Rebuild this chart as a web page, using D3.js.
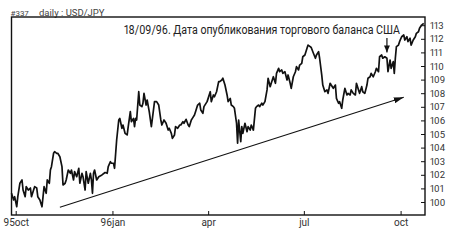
<!DOCTYPE html>
<html>
<head>
<meta charset="utf-8">
<script src="https://cdn.jsdelivr.net/npm/d3@7"></script>
<style>
  body { margin: 0; background: #fff; }
  svg text { font-family: Roboto, "Noto Sans", sans-serif; fill: #2a2a2a; font-variant-numeric: proportional-nums; }
</style>
</head>
<body>
<div id="chart"></div>
<script>
// daily USD/JPY
const dates = [
  "95-09-27","95-09-29","95-09-30","95-10-02","95-10-03","95-10-05","95-10-07","95-10-08","95-10-10","95-10-11",
  "95-10-13","95-10-15","95-10-16","95-10-18","95-10-19","95-10-21","95-10-22","95-10-24","95-10-26","95-10-27",
  "95-10-28","95-10-30","95-10-31","95-11-02","95-11-03","95-11-04","95-11-06","95-11-07","95-11-09","95-11-10",
  "95-11-12","95-11-14","95-11-15","95-11-17","95-11-18","95-11-20","95-11-22","95-11-23","95-11-25","95-11-26",
  "95-11-28","95-11-30","95-12-01","95-12-03","95-12-04","95-12-06","95-12-07","95-12-09","95-12-11","95-12-12",
  "95-12-13","95-12-14","95-12-15","95-12-17","95-12-19","95-12-22",
  "95-12-25","95-12-27","95-12-28","95-12-30","95-12-31","96-01-02","96-01-03","96-01-05","96-01-07","96-01-08",
  "96-01-10","96-01-11","96-01-13","96-01-15","96-01-16","96-01-18","96-01-19","96-01-21","96-01-22","96-01-23",
  "96-01-24","96-01-26","96-01-27","96-01-29","96-01-30","96-01-31","96-02-02","96-02-03","96-02-05","96-02-07",
  "96-02-08","96-02-10","96-02-12","96-02-14","96-02-16","96-02-17","96-02-19","96-02-21","96-02-23","96-02-24",
  "96-02-26","96-02-27","96-02-29","96-03-01","96-03-03","96-03-05","96-03-06","96-03-08","96-03-09","96-03-11",
  "96-03-13","96-03-14","96-03-16","96-03-17","96-03-19","96-03-20","96-03-22","96-03-24","96-03-25","96-03-27",
  "96-03-28","96-03-31","96-04-01","96-04-03","96-04-04","96-04-06","96-04-07","96-04-09","96-04-11","96-04-12",
  "96-04-14","96-04-15","96-04-17","96-04-19","96-04-20","96-04-22","96-04-23","96-04-25","96-04-26","96-04-28",
  "96-04-29","96-04-30","96-05-02","96-05-03","96-05-04","96-05-06","96-05-08","96-05-09","96-05-11","96-05-12",
  "96-05-14","96-05-16","96-05-17","96-05-19","96-05-20","96-05-22","96-05-23","96-05-25","96-05-27","96-05-28",
  "96-05-30","96-05-31","96-06-02","96-06-04","96-06-05","96-06-07","96-06-08","96-06-10","96-06-11","96-06-13",
  "96-06-15","96-06-16","96-06-18","96-06-19","96-06-21","96-06-23","96-06-24","96-06-26","96-06-27","96-06-29",
  "96-06-30","96-07-02","96-07-04","96-07-05","96-07-07","96-07-08","96-07-10","96-07-12","96-07-13","96-07-15",
  "96-07-16","96-07-18","96-07-19","96-07-21","96-07-23","96-07-24","96-07-26","96-07-27","96-07-29","96-07-31",
  "96-08-01","96-08-03","96-08-04","96-08-06","96-08-07","96-08-09","96-08-11","96-08-12","96-08-14","96-08-15",
  "96-08-17","96-08-19","96-08-20","96-08-22","96-08-23","96-08-25","96-08-26","96-08-28","96-08-30","96-08-31",
  "96-09-02","96-09-03","96-09-05","96-09-07","96-09-08","96-09-10","96-09-11","96-09-13","96-09-14","96-09-16",
  "96-09-18","96-09-19","96-09-21","96-09-22","96-09-24","96-09-25","96-09-26","96-09-27","96-09-29","96-09-30",
  "96-10-02","96-10-04","96-10-05","96-10-07","96-10-08","96-10-10","96-10-11","96-10-13","96-10-15","96-10-16",
  "96-10-18","96-10-19","96-10-21","96-10-23"
];

const rates = [
  100.64,100.15,100.39,99.65,100.39,101.38,101.62,100.88,100.39,101.13,
  100.88,101.03,100.39,100.88,101.13,101.03,100.39,100.15,99.65,100.39,
  101.13,100.64,101.62,101.38,102.35,102.60,103.58,103.70,103.58,103.58,
  103.33,102.60,101.25,101.38,101.62,102.35,102.11,102.35,101.62,102.23,
  101.86,102.48,101.38,102.11,101.86,100.88,102.23,101.38,102.11,101.62,
  100.64,102.11,102.35,101.62,101.86,101.99,
  102.17,102.11,102.60,102.96,102.85,102.85,102.48,104.56,106.03,106.15,
  105.42,105.66,105.05,104.93,105.54,106.64,105.90,106.15,105.54,106.15,
  106.03,108.11,107.13,107.01,107.26,107.99,107.13,107.50,106.64,105.54,
  106.15,107.38,107.38,107.13,106.03,105.66,106.03,105.79,105.29,105.42,
  105.05,104.68,104.93,105.54,105.42,105.66,105.66,105.90,105.79,106.08,
  105.66,105.54,106.03,106.15,106.40,106.64,107.13,107.26,106.76,106.52,
  107.01,107.38,107.62,108.11,107.38,107.87,107.74,108.11,108.85,108.85,
  108.97,109.10,108.60,107.87,107.38,107.62,107.13,107.01,106.89,105.79,
  104.32,106.03,104.43,105.54,105.05,105.79,105.17,105.54,105.29,105.66,
  105.29,106.89,107.01,107.13,107.01,107.26,107.13,107.38,108.24,109.10,
  108.48,108.73,109.21,108.73,109.46,109.83,109.58,109.71,109.46,109.58,
  108.97,109.34,108.73,108.36,109.21,109.58,109.95,109.71,110.07,110.20,
  110.68,110.81,111.30,111.54,111.42,111.36,110.96,110.57,110.81,111.05,
  110.57,109.34,108.60,108.11,108.24,107.99,108.73,108.60,108.36,108.60,
  107.62,107.26,107.38,106.89,107.50,108.36,107.87,107.99,107.87,108.24,
  107.99,107.87,108.73,108.24,107.99,108.48,108.11,107.99,108.60,109.10,
  109.21,109.46,109.21,109.58,109.83,109.58,110.68,110.81,110.57,110.68,
  110.57,109.58,110.44,109.83,110.32,109.46,110.57,111.42,111.54,111.79,
  112.15,112.28,111.91,112.15,111.79,112.04,111.54,111.91,112.15,112.40,
  112.52,112.77,113.01,113.14
];

const xTickDates = ["95-10-01", "96-01-01", "96-04-01", "96-07-01", "96-10-01"];
const xTickLabels = ["95oct", "96jan", "apr", "jul", "oct"];
const yTickValues = [100, 101, 102, 103, 104, 105, 106, 107, 108, 109, 110, 111, 112, 113];

// hand-drawn trend arrow and event marker
const trendDates = ["95-11-12", "96-10-04"];
const trendValues = [99.61, 107.70];
const eventDate = "96-09-18";
const eventValues = [112.05, 111.0];
const eventText = "18/09/96. Дата опубликования торгового баланса США";

var config = {
  width: 455,
  height: 244,
  left: 11.5,
  top: 17,
  right: 425,
  bottom: 215,
  lineStroke: 1.7,
  xLabelSize: "10px",
  yLabelSize: "9.5px",
  labelColor: "#333"
};

var parse = d3.utcParse("%y-%m-%d");
var data = dates.map((d, i) => ({ date: parse(d), rate: rates[i] }));

/* Scale */
var xScale = d3.scaleUtc()
  .domain([parse(xTickDates[0]), parse(xTickDates[xTickDates.length - 1])])
  .range([15.7, 400.6]);

var yScale = d3.scaleLinear()
  .domain([100, 113])
  .range([202, 25.2]);

var svg = d3.select("#chart")
  .append("svg")
  .attr("width", config.width)
  .attr("height", config.height);

var defs = svg.append("defs");
defs.append("marker")
  .attr("id", "headBig")
  .attr("viewBox", "0 0 10 6")
  .attr("refX", 10).attr("refY", 3)
  .attr("markerWidth", 10).attr("markerHeight", 6)
  .attr("markerUnits", "userSpaceOnUse")
  .attr("orient", "auto")
  .append("path").attr("d", "M0,0L10,3L0,6Z").attr("fill", "#111");
defs.append("marker")
  .attr("id", "headSmall")
  .attr("viewBox", "0 0 7 6")
  .attr("refX", 7).attr("refY", 3)
  .attr("markerWidth", 7).attr("markerHeight", 6)
  .attr("markerUnits", "userSpaceOnUse")
  .attr("orient", "auto")
  .append("path").attr("d", "M0,0L7,3L0,6Z").attr("fill", "#111");

/* title */
svg.append("text")
  .attr("x", 10.5).attr("y", 15.5)
  .style("font-size", "8px")
  .style("fill", "#444")
  .text("#337");
svg.append("text")
  .attr("x", 39).attr("y", 15.5)
  .style("font-size", "9.5px")
  .style("fill", "#444")
  .text("daily : USD/JPY");

/* Axes */
var xAxis = d3.axisBottom(xScale)
  .tickValues(xTickDates.map(parse))
  .tickFormat((d, i) => xTickLabels[i])
  .tickSize(-4)
  .tickPadding(4);

svg.append("g")
  .attr("class", "x axis")
  .attr("transform", `translate(0, ${config.bottom})`)
  .call(xAxis)
  .call(g => g.select(".domain").remove())
  .call(g => g.selectAll("line").attr("stroke", "#111"))
  .call(g => g.selectAll("text").style("font-size", config.xLabelSize).style("fill", config.labelColor));

var yAxis = d3.axisRight(yScale)
  .tickValues(yTickValues)
  .tickSize(-4)
  .tickPadding(5);

svg.append("g")
  .attr("class", "y axis")
  .attr("transform", `translate(${config.right}, 0)`)
  .call(yAxis)
  .call(g => g.select(".domain").remove())
  .call(g => g.selectAll("line").attr("stroke", "#111"))
  .call(g => g.selectAll("text").style("font-size", config.yLabelSize).style("fill", config.labelColor));

/* frame */
svg.append("rect")
  .attr("x", config.left)
  .attr("y", config.top)
  .attr("width", config.right - config.left)
  .attr("height", config.bottom - config.top)
  .attr("fill", "none")
  .attr("stroke", "#111")
  .attr("stroke-width", 1.4);

/* price line */
var line = d3.line()
  .x(d => xScale(d.date))
  .y(d => yScale(d.rate));

svg.append("path")
  .datum(data)
  .attr("d", line)
  .attr("fill", "none")
  .attr("stroke", "#111")
  .attr("stroke-width", config.lineStroke)
  .attr("stroke-linejoin", "round");

/* trend arrow */
svg.append("line")
  .attr("x1", xScale(parse(trendDates[0])))
  .attr("y1", yScale(trendValues[0]))
  .attr("x2", xScale(parse(trendDates[1])))
  .attr("y2", yScale(trendValues[1]))
  .attr("stroke", "#111")
  .attr("stroke-width", 1.1)
  .attr("marker-end", "url(#headBig)");

/* event arrow + note */
svg.append("line")
  .attr("x1", xScale(parse(eventDate)))
  .attr("y1", yScale(eventValues[0]))
  .attr("x2", xScale(parse(eventDate)))
  .attr("y2", yScale(eventValues[1]))
  .attr("stroke", "#111")
  .attr("stroke-width", 1.2)
  .attr("marker-end", "url(#headSmall)");

svg.append("text")
  .attr("x", 124)
  .attr("y", 34)
  .style("font-size", "12px")
  .style("fill", "#222")
  .attr("textLength", 276)
  .attr("lengthAdjust", "spacingAndGlyphs")
  .text(eventText);
</script>
</body>
</html>
